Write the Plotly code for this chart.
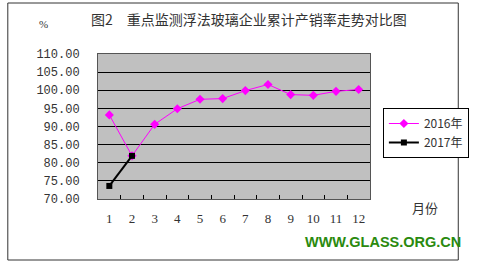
import plotly.graph_objects as go

months = ["1", "2", "3", "4", "5", "6", "7", "8", "9", "10", "11", "12"]
rate_2016 = [93.2, 81.9, 90.6, 94.9, 97.5, 97.7, 99.9, 101.6, 98.8, 98.6, 99.7, 100.2]
months_2017 = ["1", "2"]
rate_2017 = [73.6, 81.9]
y_ticks = [70, 75, 80, 85, 90, 95, 100, 105, 110]
y_labels = ["%.2f" % v for v in y_ticks]

W, H = 481, 265
L, R, T, B = 97.5, 382.5, 54, 199

def px(x):
    return (x - L) / (R - L)

def py(y):
    return (B - y) / (B - T)

fig = go.Figure()
fig.add_trace(go.Scatter(
    x=months, y=rate_2016, name="2016年", mode="lines+markers",
    line=dict(color="#FF00FF", width=1),
    marker=dict(symbol="diamond", size=7, color="#FF00FF"),
))
fig.add_trace(go.Scatter(
    x=months_2017, y=rate_2017, name="2017年", mode="lines+markers",
    line=dict(color="#000000", width=2),
    marker=dict(symbol="square", size=6, color="#000000"),
))

fig.update_layout(
    width=W, height=H,
    margin=dict(l=L, r=W - R, t=T, b=H - B, pad=0),
    paper_bgcolor="white",
    plot_bgcolor="#C0C0C0",
    showlegend=True,
    font=dict(family="Noto Sans CJK SC", size=12, color="#333333"),
    xaxis=dict(
        type="category", categoryorder="array", categoryarray=months,
        range=[-0.5, 11.5], tickson="boundaries", ticks="inside", ticklen=4,
        tickcolor="#000000", showgrid=False, showline=True, linecolor="#555555",
        mirror=True, tickfont=dict(family="Liberation Serif", size=13, color="#333333"),
        zeroline=False, ticklabelstandoff=7,
    ),
    yaxis=dict(
        range=[70, 110], tickvals=y_ticks, ticktext=y_labels, ticks="",
        showgrid=True, gridcolor="#000000", gridwidth=1, showline=True,
        linecolor="#555555", mirror=True, zeroline=False, ticklabelstandoff=15,
        tickfont=dict(family="Liberation Mono", size=12, color="#333333"),
    ),
    legend=dict(
        x=px(396), y=py(108), xanchor="left", yanchor="top",
        bgcolor="white", bordercolor="#000000", borderwidth=1,
        font=dict(family="Noto Sans CJK SC", size=12, color="#333333"),
        tracegroupgap=0, itemwidth=30,
    ),
)

fig.add_shape(type="rect", xref="paper", yref="paper",
              x0=px(3), x1=px(475), y0=py(260), y1=py(3),
              line=dict(color="#333333", width=1), fillcolor="rgba(0,0,0,0)", layer="below")

def note(text, x, y, family, size, color="#333333"):
    fig.add_annotation(text=text, xref="paper", yref="paper", x=px(x), y=py(y),
                       xanchor="left", yanchor="middle", showarrow=False,
                       font=dict(family=family, size=size, color=color))

note("图2　重点监测浮法玻璃企业累计产销率走势对比图", 88, 19, "Noto Sans CJK SC", 14)
note("%", 34, 24, "Liberation Serif", 11)
note("月份", 424, 207, "Noto Sans CJK SC", 13)
note("<b>WWW.GLASS.ORG.CN</b>", 312, 242, "Liberation Sans", 14.5, "#2A8A0E")

fig.write_html("out.html")
